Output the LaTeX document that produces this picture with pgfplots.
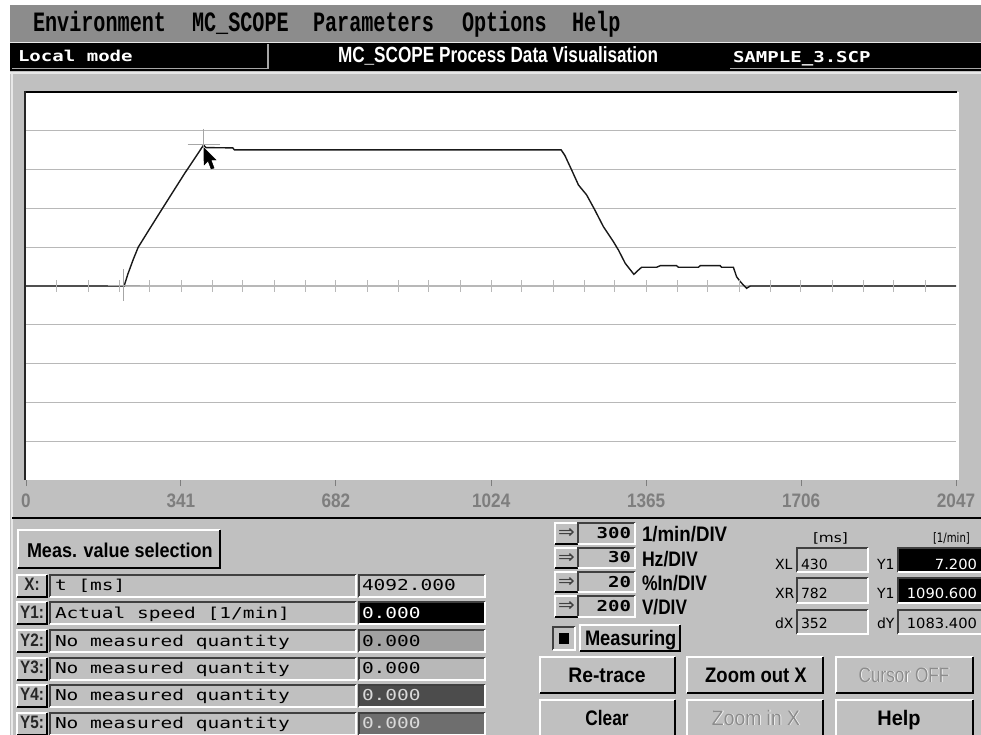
\documentclass[border=0pt]{standalone}
\usepackage{pgfplots}
\pgfplotsset{compat=1.18}
\usepackage{fontspec}
\usepackage{graphicx}
\setmainfont{Liberation Sans}
\newfontfamily\menuf{Liberation Mono}
\newfontfamily\pixf{DejaVu Sans Mono}
\newfontfamily\dvs{DejaVu Sans}
\definecolor{ui}{HTML}{C0C0C0}
\definecolor{menug}{HTML}{8C8C8C}
\definecolor{gridg}{HTML}{B8B8B8}
\definecolor{tickg}{HTML}{7E7E7E}
\definecolor{shadow}{HTML}{404040}
\definecolor{hil}{HTML}{E8E8E8}
\tikzset{lbl/.style={anchor=base west,inner sep=0pt,outer sep=0pt},
         rlbl/.style={anchor=base east,inner sep=0pt,outer sep=0pt},
         clbl/.style={anchor=base,inner sep=0pt,outer sep=0pt}}
\newcommand\pix[1]{{\pixf\fontsize{15}{15}\selectfont\scalebox{1.3}[1]{#1}}}
\newcommand\pixb[1]{{\pixf\bfseries\fontsize{15}{15}\selectfont\scalebox{1.27}[1]{#1}}}
\newcommand\bsx[3]{{\bfseries\fontsize{#1}{#1}\selectfont\scalebox{#2}[1]{#3}}}
\newcommand\rsx[3]{{\fontsize{#1}{#1}\selectfont\scalebox{#2}[1]{#3}}}
\newcommand\dv[3]{{\dvs\fontsize{#1}{#1}\selectfont\scalebox{#2}[1]{#3}}}
\newcommand\tl[1]{\scalebox{0.88}[1]{\bfseries\fontsize{19.5}{19.5}\selectfont #1}}
\newcommand\menu[3]{\node[lbl] at (#1,-#2) {\menuf\bfseries\fontsize{28}{28}\selectfont\scalebox{0.72}[1]{#3}};}
\newcommand\raised[4]{\fill[ui] (#1,-#2) rectangle (#3,-#4);
  \draw[white,line width=1.5pt] (#1,-#4)--(#1,-#2)--(#3,-#2);
  \draw[black,line width=1.8pt] (#1,-#4)--(#3,-#4)--(#3,-#2);}
\newcommand\sunken[5]{\fill[#5] (#1,-#2) rectangle (#3,-#4);
  \draw[shadow,line width=1.5pt] (#1,-#4)--(#1,-#2)--(#3,-#2);
  \draw[white,line width=1.2pt] (#1,-#4)--(#3,-#4)--(#3,-#2);}
% left panel row: top, bottom, baseline, label, text, fill, textcolor, value
\newcommand\mrow[8]{\raised{17}{#1}{47}{#2}
  \node[clbl,text=black!85] at (32,-#3) {\bsx{18}{0.85}{#4}};
  \sunken{50}{#1}{356}{#2}{ui}
  \node[lbl] at (55,-#3) {\pix{#5}};
  \sunken{359}{#1}{485}{#2}{#6}
  \node[lbl,text=#7] at (362,-#3) {\pix{#8}};}
% arrow rows: top,bottom,mid,base,labelbase,value,label,scale
\newcommand\arow[8]{\raised{555}{#1}{578}{#2}
  \node[text=shadow,inner sep=0] at (566.5,-#3) {\dv{19}{1.05}{⇒}};
  \sunken{578}{#1}{635}{#2}{ui}
  \node[rlbl] at (631,-#4) {\pixb{#6}};
  \node[lbl] at (642,-#5) {\bsx{21}{#8}{#7}};}
\begin{document}
\begin{tikzpicture}[x=1pt,y=1pt]
\clip (0,0) rectangle (981,-735);
\fill[white] (0,0) rectangle (981,-735);
\fill[ui] (10,-5) rectangle (981,-735);
% menu bar
\fill[menug] (10,-5) rectangle (981,-42);
\menu{33}{32}{Environment}
\menu{192}{32}{MC\_SCOPE}
\menu{313}{32}{Parameters}
\menu{462}{32}{Options}
\menu{572}{32}{Help}
\draw[hil,line width=1.5pt] (10,-42.5) -- (981,-42.5);
% title bar
\fill[black] (10,-43) rectangle (981,-71);
\draw[gray!70,line width=1.2pt] (12,-68.5) -- (268,-68.5) -- (268,-44);
\node[lbl,text=white] at (18,-62) {\pixb{Local mode}};
\node[lbl,text=white] at (338,-63) {\bsx{22}{0.78}{MC\_SCOPE Process Data Visualisation}};
\draw[gray!70,line width=1.2pt] (730,-68.5) -- (981,-68.5);
\node[lbl,text=white] at (733,-63) {\pixb{SAMPLE\_3.SCP}};
\draw[hil,line width=2pt] (10,-73) -- (981,-73);
\draw[hil,line width=2pt] (12,-73) -- (12,-735);
% plot area
\fill[white] (25,-92) rectangle (957,-480);
\begin{axis}[at={(26pt,-480pt)},anchor=south west,
  scale only axis,width=930pt,height=388pt,
  xmin=0,xmax=2047,ymin=-1500,ymax=1500,
  axis line style={draw=none},
  xtick={0,341,682,1024,1365,1706,2047},
  xticklabels={\tl{0},\tl{341},\tl{682},\tl{1024},\tl{1365},\tl{1706},\tl{2047}},
  xtick pos=left,ytick pos=left,
  ytick={-1200,-900,-600,-300,0,300,600,900,1200},
  yticklabels={},
  ymajorgrids,major grid style={gridg,line width=1.3pt},
  tick align=outside,major tick length=6pt,
  xtick style={tickg,line width=1pt},
  ytick style={/pgfplots/major tick length=0pt,draw=none},
  xticklabel style={anchor=base,text=tickg,yshift=-21pt},
  clip=false]
\addplot[only marks,mark=|,mark size=6pt,color=gridg,mark options={line width=1pt}] coordinates {
(68.2,0)(136.5,0)(204.7,0)(272.9,0)(341.2,0)(409.4,0)(477.6,0)(545.9,0)(614.1,0)(682.3,0)
(750.6,0)(818.8,0)(887.0,0)(955.3,0)(1023.5,0)(1091.7,0)(1160.0,0)(1228.2,0)(1296.4,0)(1364.7,0)
(1432.9,0)(1501.1,0)(1569.4,0)(1637.6,0)(1705.8,0)(1774.1,0)(1842.3,0)(1910.5,0)(1978.8,0)};
\addplot[only marks,mark=+,mark size=16pt,color=black!35,mark options={line width=1pt}] coordinates {(215,7.2) (391,1090.6)};
\addplot[black!90,line width=1.4pt] coordinates {
(0,0)(216,0)(224,90)(236,205)(247,300)(270,430)(295,570)(322,720)(350,875)(372,990)(387,1070)
(391,1090)(396,1070)(455,1068)(459,1052)(1178,1052)(1186,1010)(1201,897)(1216,781)(1234,704)
(1252,588)(1271,458)(1293,342)(1304,278)(1319,175)(1338,90)(1344,111)(1355,145)(1388,145)
(1396,157)(1432,157)(1436,145)(1480,145)(1484,157)(1528,157)(1531,145)(1557,145)(1564,72)
(1572,34)(1586,-18)(1594,0)(2047,0)};
\addplot[fill=black,draw=black,line width=0.4pt] coordinates {
(392,1067)(392,936)(400.8,966)(407.4,905)(414,912)(407.4,974)(418.4,974)} -- cycle;
\end{axis}
\draw[black,line width=2pt] (24,-92) -- (957,-92);
\draw[black!85,line width=2.5pt] (25,-91) -- (25,-480);
\draw[white,line width=1.5pt] (958,-92) -- (958,-480);
\draw[black,line width=2pt] (12,-518) -- (981,-518);
% left panel
\raised{18}{530}{220}{568}
\node[lbl] at (27,-557) {\bsx{20}{0.9}{Meas. value selection}};
\mrow{575}{597}{590}{X:}{t [ms]}{ui!95!white}{black}{4092.000}
\mrow{602}{624}{618}{Y1:}{Actual speed [1/min]}{black}{white}{0.000}
\mrow{630}{652}{646}{Y2:}{No measured quantity}{black!37}{black}{0.000}
\mrow{658}{680}{673}{Y3:}{No measured quantity}{black!28}{black}{0.000}
\mrow{685}{707}{700}{Y4:}{No measured quantity}{black!70}{white!85!black}{0.000}
\mrow{713}{735}{728}{Y5:}{No measured quantity}{black!57}{white!85!black}{0.000}
% scale rows
\arow{523}{544}{533.5}{538}{541}{300}{1/min/DIV}{0.89}
\arow{548}{568}{558}{562}{566}{30}{Hz/DIV}{0.84}
\arow{572}{592}{582}{587}{590}{20}{\%In/DIV}{0.83}
\arow{596}{617}{606.5}{611}{614}{200}{V/DIV}{0.82}
\sunken{553}{627}{575}{650}{ui}
\fill[black] (559,-633) rectangle (569,-644);
\raised{580}{625}{680}{651}
\node[lbl] at (585,-645) {\bsx{21}{0.87}{Measuring}};
% cursor readouts
\node[lbl] at (813,-542) {\dv{13}{1.18}{[ms]}};
\node[lbl] at (933,-542) {\dv{13}{0.78}{[1/min]}};
\node[lbl] at (775,-569) {\dv{14}{1}{XL}};
\sunken{797}{548}{868}{572}{ui}
\node[lbl] at (801,-569) {\dv{14}{1}{430}};
\node[lbl] at (877,-569) {\dv{14}{1}{Y1}};
\sunken{898}{548}{983}{572}{black}
\node[rlbl,text=white] at (977,-569) {\dv{14}{1.05}{7.200}};
\node[lbl] at (775,-598) {\dv{14}{1}{XR}};
\sunken{797}{578}{868}{603}{ui}
\node[lbl] at (801,-598) {\dv{14}{1}{782}};
\node[lbl] at (877,-598) {\dv{14}{1}{Y1}};
\sunken{898}{578}{983}{603}{black}
\node[rlbl,text=white] at (977,-598) {\dv{14}{1.05}{1090.600}};
\node[lbl] at (775,-628) {\dv{14}{1}{dX}};
\sunken{797}{610}{868}{634}{ui}
\node[lbl] at (801,-628) {\dv{14}{1}{352}};
\node[lbl] at (877,-628) {\dv{14}{1}{dY}};
\sunken{898}{610}{983}{634}{ui}
\node[rlbl] at (977,-628) {\dv{14}{1.05}{1083.400}};
% buttons
\raised{540}{657}{675}{693}
\node[clbl] at (607,-682) {\bsx{21}{0.92}{Re-trace}};
\raised{687}{657}{823}{693}
\node[clbl] at (756,-682) {\bsx{21}{0.88}{Zoom out X}};
\raised{836}{657}{973}{693}
\node[clbl,text=white] at (904.8,-682.8) {\rsx{21}{0.82}{Cursor OFF}};
\node[clbl,text=black!45] at (904,-682) {\rsx{21}{0.82}{Cursor OFF}};
\raised{540}{700}{675}{740}
\node[clbl] at (607,-725) {\bsx{21}{0.82}{Clear}};
\raised{687}{700}{823}{740}
\node[clbl,text=white] at (756.8,-725.8) {\rsx{21}{0.92}{Zoom in X}};
\node[clbl,text=black!45] at (756,-725) {\rsx{21}{0.92}{Zoom in X}};
\raised{836}{700}{973}{740}
\node[clbl] at (899,-725) {\bsx{21}{0.95}{Help}};
\end{tikzpicture}
\end{document}
